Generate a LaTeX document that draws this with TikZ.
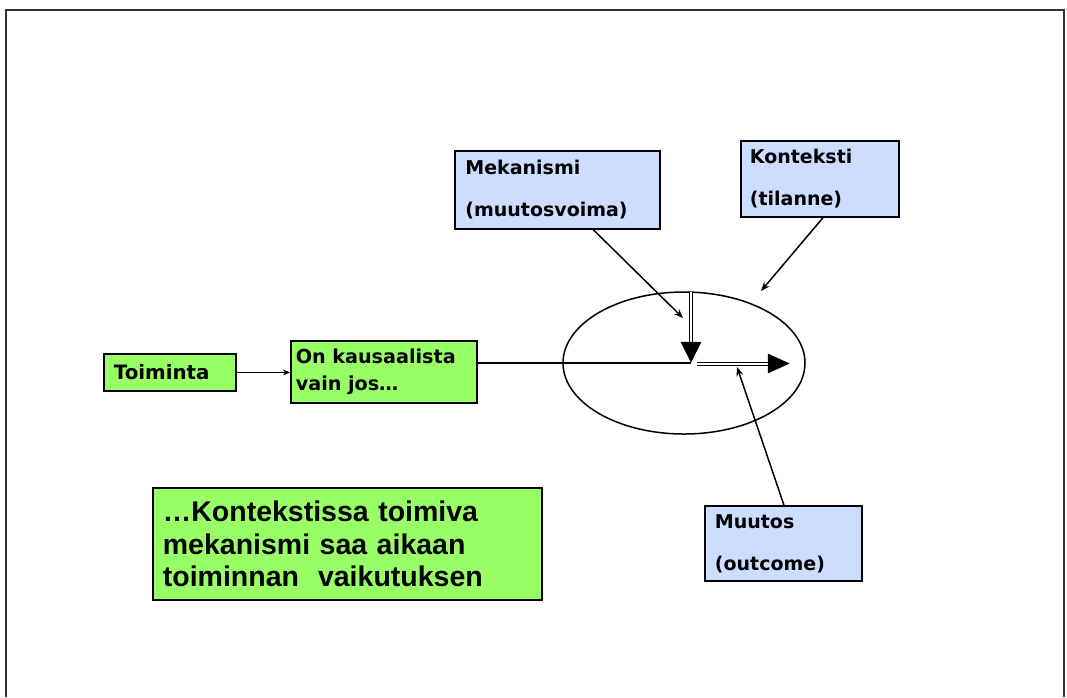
\documentclass[tikz,border=0pt]{standalone}
\usepackage{fontspec}
\setmainfont{DejaVu Sans}
\newfontfamily\arialfont{Liberation Sans}
\usetikzlibrary{arrows.meta,calc,shapes.geometric}
\definecolor{boxgreen}{HTML}{99FF66}
\definecolor{boxblue}{HTML}{CCDDFF}
\tikzset{
  gbox/.style={draw=black, line width=1.8pt, fill=boxgreen, anchor=north west, inner sep=0pt, align=left, font=\bfseries\fontsize{19.2}{27}\selectfont},
  bbox/.style={draw=black, line width=1.8pt, fill=boxblue, anchor=north west, inner sep=0pt, align=left, font=\bfseries\fontsize{19}{42}\selectfont},
  conn/.style={line width=1.5pt, -{Stealth[length=9pt,width=7pt]}},
  dbl/.style={double, double distance=2pt, line width=1.4pt},
  tri/.style={fill=black, draw=black, line width=0.5pt}
}
\begin{document}
\begin{tikzpicture}[x=1pt,y=-1pt]
\useasboundingbox (0,0) rectangle (1067,697);
% frame
\draw[line width=2.5pt, black!80] (6,697) -- (6,10) -- (1064,10) -- (1064,697);
% boxes
\node[gbox, minimum width=132pt, minimum height=37pt, text width=112pt, font=\bfseries\fontsize{19.8}{27}\selectfont] (toim) at (103,353) {Toiminta};
\node[gbox, minimum width=186pt, minimum height=62pt, text width=176pt] (kaus) at (290,340) {On kausaalista\\vain jos\ldots};
\node[bbox, minimum width=205pt, minimum height=78pt, text width=184pt] (mek) at (454,150) {Mekanismi\\(muutosvoima)};
\node[bbox, minimum width=158pt, minimum height=76pt, text width=140pt] (kont) at (740,140) {Konteksti\\(tilanne)};
\node[bbox, minimum width=157pt, minimum height=75pt, text width=137pt] (muut) at (704,505) {Muutos\\(outcome)};
\node[draw=black, line width=1.8pt, fill=boxgreen, anchor=north west, inner sep=0pt, align=left,
  minimum width=389pt, minimum height=112pt, text width=369pt,
  font=\arialfont\bfseries\fontsize{28.5}{32.5}\selectfont] (big) at (152,487)
  {\ldots Kontekstissa toimiva\\mekanismi saa aikaan\\toiminnan\ \ vaikutuksen};
% ellipse
\node[draw=black, line width=1.5pt, ellipse, minimum width=242pt, minimum height=142pt, inner sep=0pt] (ell) at (684,363) {};
% coordinates
\coordinate (meet) at (691,363);
\coordinate (dtop) at (691,292);
\coordinate (dend) at (691,343);
\coordinate (rstart) at (697,364);
\coordinate (rend) at (769,364);
\coordinate (mektip) at (683,318);
\coordinate (konttip) at (761,291);
\coordinate (muuttip) at (737,367);
% connectors
\draw[line width=1.5pt, -{Stealth[length=7pt,width=6pt]}] (toim.east) -- (kaus.west |- toim.east);
\draw[line width=1.5pt] (kaus.east |- meet) -- (meet);
\draw[dbl] (dtop) -- (dend);
\draw[tri] (681,342) -- (701,342) -- (691,362) -- cycle;
\draw[dbl] (rstart) -- (rend);
\draw[tri] (768,354) -- (768,373) -- (789,363.5) -- cycle;
\draw[conn] ([xshift=36pt]mek.south) -- (mektip);
\draw[conn] ([xshift=3pt]kont.south) -- (konttip);
\draw[conn] ([xshift=0.5pt]muut.north) -- (muuttip);
\end{tikzpicture}
\end{document}
